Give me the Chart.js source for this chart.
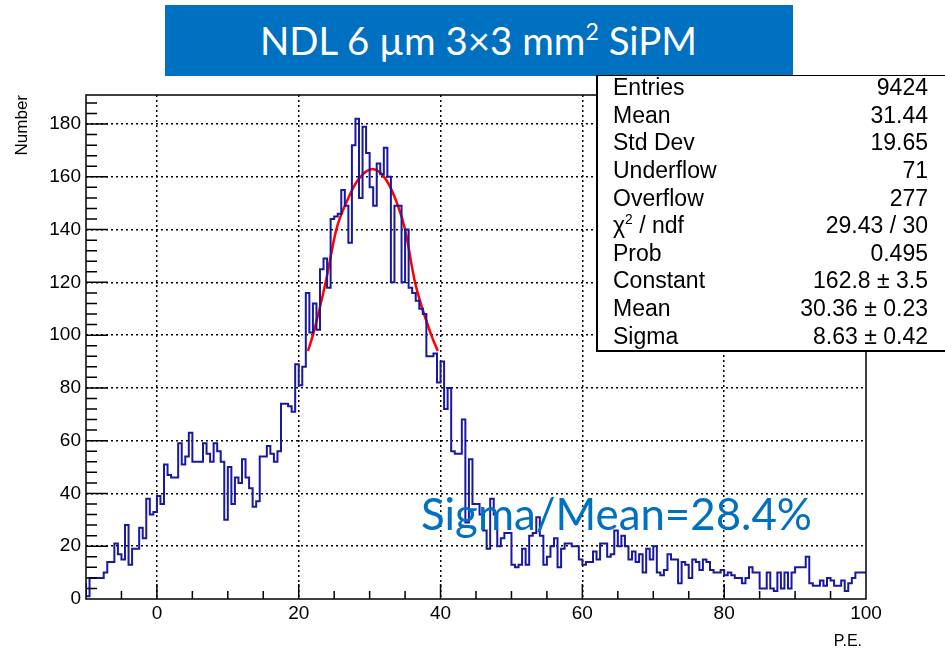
<!DOCTYPE html>
<html lang="en">
<head>
<meta charset="UTF-8">
<meta name="viewport" content="width=device-width, initial-scale=1.0">
<title>NDL 6 µm 3×3 mm² SiPM</title>
<script src="https://cdn.jsdelivr.net/npm/chart.js"></script>
<style>
  body { margin: 0; background: #fff; }
  #page { position: relative; width: 945px; height: 654px; overflow: hidden;
          font-family: "Liberation Sans", Arial, sans-serif; color: #000; }
  #plot { position: absolute; left: 0; top: 0; }
  .banner { position: absolute; left: 165px; top: 5px; width: 628px; height: 71px; background: #0070c0; }
  .fit { position: absolute; white-space: nowrap; transform-origin: 0 0; line-height: 1; }
  #title { left: 260px; top: 21px; font-family: Lato, "Open Sans", sans-serif; font-size: 38px; color: #fff; }
  #ratio { left: 421px; top: 491px; font-family: Lato, "Open Sans", sans-serif; font-size: 44px; color: #0070c0; }
  sup { font-size: 0.6em; vertical-align: 0.65em; line-height: 0; }
  .stats { position: absolute; left: 596px; top: 75px; width: 400px; height: 274px;
           background: #fff; border: 1px solid #000; border-left-width: 2px; border-bottom-width: 2px; }
  .row { position: absolute; left: 613px; width: 315px; height: 27.6px; line-height: 27.6px;
         font-size: 23px; display: flex; justify-content: space-between; white-space: nowrap; }
  #ytitle { position: absolute; left: 12px; top: 175px; width: 80px; line-height: 19px; font-size: 17px;
            text-align: right; transform-origin: 0 0; transform: rotate(-90deg); }
  #xtitle { position: absolute; left: 762px; top: 631px; width: 100px; line-height: 19px; font-size: 16px; text-align: right; }
</style>
</head>
<body>
<div id="page">
  <canvas id="plot" width="945" height="654"></canvas>
  <div class="banner"></div>
  <span class="fit" id="title">NDL 6 µm 3×3 mm<sup>2</sup> SiPM</span>
  <div class="stats"></div>
  <div id="statRows"></div>
  <span class="fit" id="ratio">Sigma/Mean=28.4%</span>
  <div id="ytitle">Number</div>
  <div id="xtitle">P.E.</div>
</div>

<script>
// histogram: 0.5 P.E. bins from -10 to 100, counts
const X_MIN = -10, X_MAX = 100, BIN_W = 0.5;
const binsM10to0 = [6, 1, 8, 8, 8, 8, 10, 14, 14, 21, 17, 15, 28, 13, 19, 19, 27, 23, 38, 32];
const bins0to10  = [33, 39, 36, 51, 47, 46, 46, 59, 51, 54, 63, 52, 52, 52, 59, 55, 52, 59, 56, 52];
const bins10to20 = [30, 50, 36, 46, 44, 53, 46, 42, 35, 37, 54, 54, 58, 55, 52, 56, 74, 74, 73, 71];
const bins20to30 = [89, 81, 88, 116, 101, 112, 102, 125, 129, 118, 144, 145, 146, 155, 149, 135, 172, 182, 152, 179];
const bins30to40 = [169, 156, 149, 165, 161, 171, 160, 120, 149, 149, 120, 140, 118, 116, 113, 110, 108, 92, 92, 93];
const bins40to50 = [82, 90, 72, 80, 56, 55, 55, 68, 29, 53, 36, 36, 32, 26, 19, 38, 32, 20, 23, 25];
const bins50to60 = [25, 13, 12, 13, 19, 13, 24, 25, 31, 24, 13, 16, 20, 23, 12, 19, 21, 21, 20, 20];
const bins60to70 = [15, 13, 14, 14, 18, 15, 21, 21, 16, 17, 26, 20, 24, 20, 15, 18, 14, 17, 10, 19];
const bins70to80 = [15, 20, 10, 9, 11, 17, 15, 15, 6, 14, 13, 8, 15, 14, 11, 15, 14, 11, 10, 10];
const bins80to90 = [11, 9, 10, 9, 8, 8, 6, 8, 12, 10, 10, 4, 4, 10, 4, 3, 10, 4, 10, 4];
const bins90to100 = [10, 12, 12, 12, 16, 6, 5, 5, 7, 5, 8, 7, 5, 5, 7, 3, 6, 8, 10, 10];

// red gaussian fit
const fitX = [21.3, 22, 23.8, 25.3, 27, 28.4, 30.4, 32.3, 34, 35, 36.4, 38.7, 39.6];
const fitY = [94, 100, 120, 140, 152, 159, 163, 159, 149, 140, 120, 100, 94];

const xLabelTicks = [0, 20, 40, 60, 80, 100];
const yLabelTicks = [0, 20, 40, 60, 80, 100, 120, 140, 160, 180];

const statNames  = ['Entries', 'Mean', 'Std Dev', 'Underflow', 'Overflow', 'χ<sup>2</sup> / ndf', 'Prob', 'Constant', 'Mean', 'Sigma'];
const statValues = ['9424', '31.44', '19.65', '71', '277', '29.43 / 30', '0.495', '162.8 ± 3.5', '30.36 ± 0.23', '8.63 ± 0.42'];

const counts = [].concat(binsM10to0, bins0to10, bins10to20, bins20to30, bins30to40,
                         bins40to50, bins50to60, bins60to70, bins70to80, bins80to90, bins90to100);
const histPoints = counts.map((c, i) => ({ x: X_MIN + i * BIN_W, y: c }));
histPoints.push({ x: X_MAX, y: counts[counts.length - 1] });
const fitPoints = fitX.map((x, i) => ({ x: x, y: fitY[i] }));

// stats box rows
const rows = document.getElementById('statRows');
statNames.forEach((name, i) => {
    const r = document.createElement('div');
    r.className = 'row';
    r.style.top = (74.2 + 27.6 * i) + 'px';
    r.innerHTML = '<span>' + name + '</span><span>' + statValues[i] + '</span>';
    rows.appendChild(r);
});

function fitWidth(id, target) {
    const el = document.getElementById(id);
    const w = el.getBoundingClientRect().width;
    el.style.transform = 'scaleX(' + (target / w) + ')';
}
fitWidth('title', 437);
fitWidth('ratio', 391);

// ROOT-style frame with inward ticks
const framePlugin = {
    id: 'frame',
    afterDatasetsDraw(chart) {
        const { ctx, chartArea: a, scales: { x, y } } = chart;
        ctx.save();
        ctx.strokeStyle = '#000';
        ctx.lineWidth = 1.5;
        ctx.beginPath();
        for (let v = -5; v < X_MAX; v += 5) {
            const px = x.getPixelForValue(v);
            const len = v % 20 === 0 ? 15 : 8;
            ctx.moveTo(px, a.bottom);
            ctx.lineTo(px, a.bottom - len);
        }
        for (let v = 4; v < y.max; v += 4) {
            const py = y.getPixelForValue(v);
            const len = v % 20 === 0 ? 22 : 11;
            ctx.moveTo(a.left, py);
            ctx.lineTo(a.left + len, py);
        }
        ctx.stroke();
        ctx.strokeRect(a.left, a.top, a.right - a.left, a.bottom - a.top);
        ctx.restore();
    }
};

Chart.defaults.font.family = '"Liberation Sans", Arial, sans-serif';
Chart.defaults.color = '#000';

new Chart(document.getElementById('plot').getContext('2d'), {
    type: 'line',
    data: {
        datasets: [{
            label: 'histogram',
            data: histPoints,
            stepped: 'after',
            borderColor: '#1818a0',
            borderWidth: 2,
            pointRadius: 0,
            fill: false
        }, {
            label: 'fit',
            data: fitPoints,
            cubicInterpolationMode: 'monotone',
            borderColor: '#ff0000',
            borderWidth: 2.5,
            pointRadius: 0,
            fill: false
        }]
    },
    options: {
        responsive: false,
        animation: false,
        layout: { padding: { left: 0, top: 95, right: 79, bottom: 0 } },
        plugins: { legend: { display: false }, tooltip: { enabled: false } },
        scales: {
            x: {
                type: 'linear',
                min: X_MIN,
                max: X_MAX,
                afterFit(s) { s.height = 55; },
                ticks: {
                    stepSize: 20,
                    autoSkip: false,
                    maxRotation: 0,
                    padding: 3,
                    font: { size: 19 },
                    callback: v => xLabelTicks.includes(v) ? String(v) : ''
                },
                grid: {
                    drawTicks: false,
                    lineWidth: 1.5,
                    color: c => (c.tick && c.tick.value > X_MIN && c.tick.value < X_MAX) ? '#000' : 'rgba(0,0,0,0)'
                },
                border: { display: false, dash: [2, 3] }
            },
            y: {
                min: 0,
                max: 191,
                afterFit(s) { s.width = 86; },
                ticks: {
                    stepSize: 20,
                    autoSkip: false,
                    padding: 5,
                    font: { size: 19 },
                    callback: v => yLabelTicks.includes(v) ? String(v) : ''
                },
                grid: {
                    drawTicks: false,
                    lineWidth: 1.5,
                    color: c => (c.tick && c.tick.value > 0 && c.tick.value <= 180) ? '#000' : 'rgba(0,0,0,0)'
                },
                border: { display: false, dash: [2, 3] }
            }
        }
    },
    plugins: [framePlugin]
});
</script>
</body>
</html>
